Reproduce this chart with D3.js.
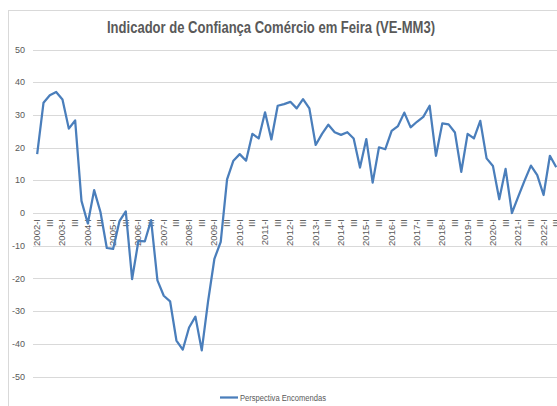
<!DOCTYPE html>
<html>
<head>
<meta charset="utf-8">
<script src="https://cdn.jsdelivr.net/npm/d3@7"></script>
<style>
  html, body { margin: 0; padding: 0; background: #fff; overflow: hidden; }
  text { font-family: "Liberation Sans Narrow", "Liberation Sans", Arial, sans-serif; fill: #595959; }
</style>
</head>
<body>
<svg id="vis"></svg>
<script>
// Datos del gráfico
const anos = d3.range(2002, 2023);
const trimestres = ["I", "II", "III", "IV"];
const titulo = "Indicador de Confiança Comércio em Feira (VE-MM3)";
const serieNombre = "Perspectiva Encomendas";
const ticksY = [50, 40, 30, 20, 10, 0, -10, -20, -30, -40, -50];

// categorías 2002-I ... 2022-III
const categorias = [];
anos.forEach(a => trimestres.forEach(t => categorias.push(`${a}-${t}`)));
categorias.splice(83);

const valores = [
  18, 33.7, 36, 37, 34.7, 25.8, 28.3, 3.7, -3.2, 7,
  0.3, -10.7, -11, -2.5, 0.5, -20.2, -8.5, -8.7, -2.2, -20.6,
  -25.3, -27, -39, -41.8, -35, -31.7, -42, -27, -14, -8.8,
  10.3, 16, 18, 16, 24.2, 22.8, 30.8, 22.5, 32.8, 33.3,
  34, 32, 34.8, 32, 20.8, 24.2, 27, 24.7, 23.9, 24.7,
  22.8, 13.9, 22.6, 9.3, 20.1, 19.5, 25.1, 26.6, 30.7, 26.2,
  27.9, 29.4, 32.8, 17.5, 27.4, 27.1, 24.6, 12.6, 24.2, 22.8,
  28.2, 16.7, 14.4, 4.2, 13.5, 0, 5, 9.9, 14.5, 11.6,
  5.5, 17.5, 14
];

const WIDTH = 557;
const HEIGHT = 406;

const svg = d3.select("#vis")
    .attr("width", WIDTH)
    .attr("height", HEIGHT);

// borde del gráfico
svg.append("rect")
    .attr("x", 8.5).attr("y", 10.5)
    .attr("width", 600).attr("height", 450)
    .attr("fill", "none")
    .attr("stroke", "#d9d9d9");

const escalaX = d3.scaleBand()
    .domain(categorias)
    .range([34, 34 + 83 * 6.33]);

const escalaY = d3.scaleLinear()
    .domain([-50, 50])
    .range([376.5, 49.5]);

// líneas de grilla
svg.append("g")
    .selectAll("line")
    .data(ticksY)
    .join("line")
    .attr("x1", 33)
    .attr("x2", 560)
    .attr("y1", d => Math.round(escalaY(d)) + 0.5)
    .attr("y2", d => Math.round(escalaY(d)) + 0.5)
    .attr("stroke", "#d9d9d9")
    .attr("stroke-width", 1);

// etiquetas eje Y
svg.append("g")
    .selectAll("text")
    .data(ticksY)
    .join("text")
    .attr("x", 25)
    .attr("y", d => escalaY(d))
    .attr("dy", "0.35em")
    .attr("text-anchor", "end")
    .attr("font-size", 9)
    .text(d => d);

// etiquetas eje X (cada dos trimestres)
svg.append("g")
    .selectAll("text")
    .data(categorias.filter((d, i) => i % 2 === 0))
    .join("text")
    .attr("transform", d => `translate(${escalaX(d) + escalaX.bandwidth() / 2 + 3}, ${escalaY(0) + 6}) rotate(-90)`)
    .attr("text-anchor", "end")
    .attr("font-size", 9.5)
    .text(d => d.endsWith("-III") ? "III" : d);

// línea de la serie
const linea = d3.line()
    .x((d, i) => escalaX(categorias[i]) + escalaX.bandwidth() / 2)
    .y(d => escalaY(d));

svg.append("path")
    .datum(valores)
    .attr("d", linea)
    .attr("fill", "none")
    .attr("stroke", "#4a7ebb")
    .attr("stroke-width", 2.25)
    .attr("stroke-linejoin", "round");

// título
svg.append("text")
    .attr("x", 271)
    .attr("y", 33)
    .attr("text-anchor", "middle")
    .attr("font-size", 16)
    .attr("font-weight", "bold")
    .attr("textLength", 328)
    .attr("lengthAdjust", "spacingAndGlyphs")
    .text(titulo);

// leyenda
svg.append("line")
    .attr("x1", 220).attr("x2", 238)
    .attr("y1", 397.5).attr("y2", 397.5)
    .attr("stroke", "#4a7ebb")
    .attr("stroke-width", 2.25);

svg.append("text")
    .attr("x", 240)
    .attr("y", 400.5)
    .attr("font-size", 8.5)
    .attr("textLength", 86)
    .attr("lengthAdjust", "spacingAndGlyphs")
    .text(serieNombre);
</script>
</body>
</html>
